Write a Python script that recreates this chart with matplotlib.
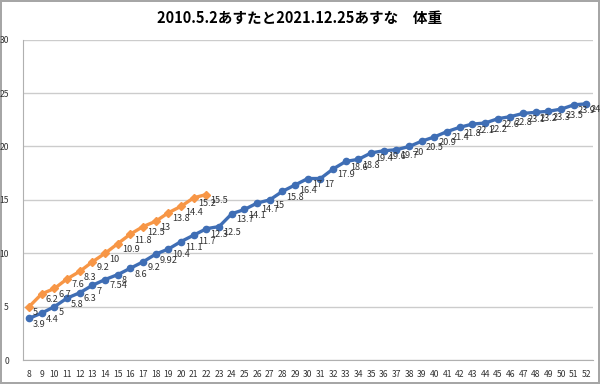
import matplotlib
matplotlib.use("Agg")
import matplotlib.pyplot as plt

plt.rcParams['font.family'] = ['Noto Sans CJK JP', 'DejaVu Sans']

# x categories (months)
months = list(range(8, 53))

# 2021.12.25 (orange), months 8..22
orange_vals = [5, 6.2, 6.7, 7.6, 8.3, 9.2, 10, 10.9, 11.8, 12.5, 13, 13.8, 14.4, 15.2, 15.5]

# 2010.5.2 (blue), months 8..52
blue_vals = [3.9, 4.4, 5, 5.8, 6.3, 7, 7.54, 8, 8.6, 9.2, 9.92, 10.4, 11.1, 11.7, 12.3,
             12.5, 13.7, 14.1, 14.7, 15, 15.8, 16.4, 17, 17, 17.9, 18.6, 18.8, 19.4,
             19.6, 19.7, 20, 20.5, 20.9, 21.4, 21.8, 22.1, 22.2, 22.6, 22.8, 23.1,
             23.2, 23.3, 23.5, 23.9, 24]

title = '2010.5.2あすたと2021.12.25あすな\u3000体重'

blue = '#3F6EB5'
orange = '#F79646'

fig = plt.figure(figsize=(6, 3.84), dpi=100)
fig.patch.set_edgecolor('#a6a6a6')
fig.patch.set_linewidth(1.5)
ax = fig.add_axes([0.038, 0.0625, 0.95, 0.834])

xb = list(range(len(blue_vals)))
xo = list(range(len(orange_vals)))

ax.plot(xb, blue_vals, color=blue, lw=2.4, marker='o', markersize=4.5, zorder=3)
ax.plot(xo, orange_vals, color=orange, lw=2.4, marker='D', markersize=3.8, zorder=4)

for x, v in zip(xb, blue_vals):
    ax.annotate(f'{v:g}', (x, v), textcoords='offset pixels', xytext=(4, -6),
                ha='left', va='center', fontsize=6.6, color='#333333', zorder=5)
for x, v in zip(xo, orange_vals):
    ax.annotate(f'{v:g}', (x, v), textcoords='offset pixels', xytext=(4, -6),
                ha='left', va='center', fontsize=6.6, color='#333333', zorder=5)

ax.set_xlim(-0.5, len(months) - 0.5)
ax.set_ylim(0, 30)
ax.set_yticks(range(0, 31, 5))
ax.set_xticks(range(len(months)))
ax.set_xticklabels([str(m) for m in months])
ax.tick_params(axis='both', length=0, labelsize=6.2, colors='#333333')
ax.tick_params(axis='x', pad=7)
ax.tick_params(axis='y', pad=10)
ax.grid(axis='y', color='#cccccc', lw=1)
ax.set_axisbelow(True)
for s in ['top', 'right']:
    ax.spines[s].set_visible(False)
ax.spines['left'].set_color('#b0b0b0')
ax.spines['bottom'].set_color('#b0b0b0')

fig.text(0.5, 0.953, title, ha='center', va='center', fontsize=10.5, fontweight='bold')

fig.savefig('out.png', dpi=100)
